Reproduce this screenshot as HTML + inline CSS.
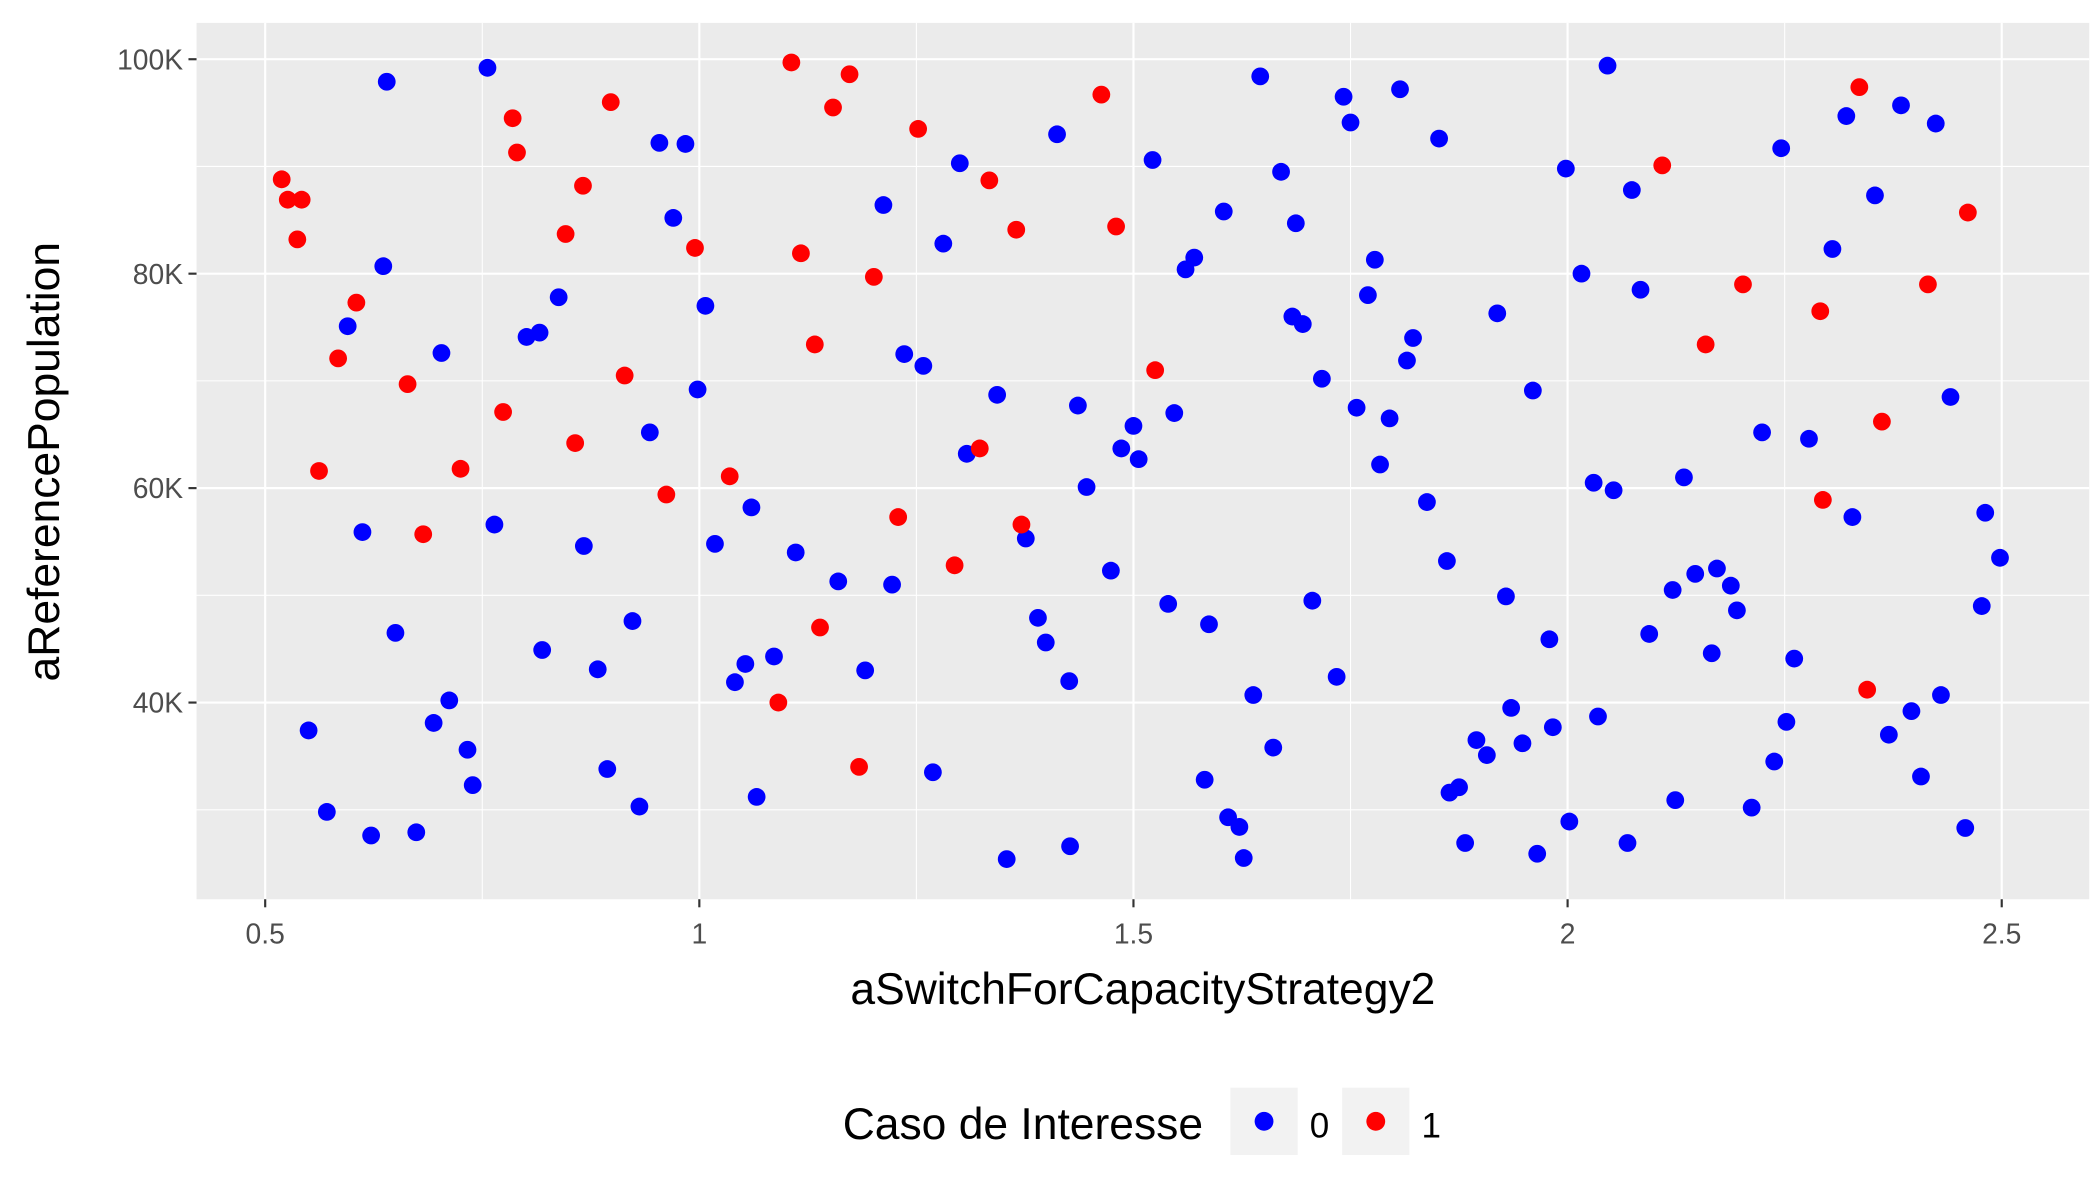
<!DOCTYPE html>
<html><head><meta charset="utf-8"><style>
html,body{margin:0;padding:0;background:#fff;}
svg{display:block;font-family:"Liberation Sans",Arial,sans-serif;}
</style></head><body>
<svg id="chart" width="2100" height="1200" viewBox="0 0 1560 891.43" xmlns="http://www.w3.org/2000/svg">
<rect x="0" y="0" width="1560" height="891.43" fill="#fff"/>
<rect x="146" y="17" width="1406" height="651" fill="#EBEBEB"/>
<g id="grid"></g>
<g id="axes"></g>
<g id="points"></g>
<text x="849" y="746" font-size="33" text-anchor="middle" fill="#000">aSwitchForCapacityStrategy2</text>
<text transform="translate(44,343) rotate(-90)" font-size="33" text-anchor="middle" fill="#000">aReferencePopulation</text>
<g>
<text x="626" y="846" font-size="33" fill="#000">Caso de Interesse</text>
<rect x="914" y="808" width="50" height="50" fill="#F2F2F2"/>
<circle cx="939" cy="833" r="7" fill="#0000FF"/>
<text x="973" y="845" font-size="26" fill="#000">0</text>
<rect x="997" y="808" width="50" height="50" fill="#F2F2F2"/>
<circle cx="1022" cy="833" r="7" fill="#FF0000"/>
<text x="1056" y="845" font-size="26" fill="#000">1</text>
</g>
</svg>
<script>
const xTicks=[0.5,1,1.5,2,2.5];
const xTickLabels=["0.5","1","1.5","2","2.5"];
const yTicks=[40,60,80,100];
const yTickLabels=["40K","60K","80K","100K"];
const xMinor=[0.75,1.25,1.75,2.25];
const yMinor=[30,50,70,90];
const blueX=[0.640,0.756,0.636,0.595,0.703,0.801,0.816,0.838,0.612,0.764,0.650,0.550,0.571,0.622,0.674,0.694,0.712,0.733,0.739,0.819,0.867,0.883,0.894,0.923,0.931,0.943,0.954,0.970,0.984,0.998,1.007,1.018,1.041,1.053,1.060,1.066,1.086,1.111,1.160,1.191,1.212,1.222,1.236,1.258,1.269,1.281,1.300,1.308,1.343,1.354,1.376,1.390,1.399,1.412,1.426,1.427,1.436,1.446,1.474,1.486,1.500,1.506,1.522,1.540,1.547,1.560,1.570,1.582,1.587,1.604,1.609,1.622,1.627,1.638,1.646,1.661,1.670,1.683,1.687,1.695,1.706,1.717,1.734,1.742,1.750,1.757,1.770,1.778,1.784,1.795,1.807,1.815,1.822,1.838,1.852,1.861,1.864,1.875,1.882,1.895,1.907,1.919,1.929,1.935,1.948,1.960,1.965,1.979,1.983,1.998,2.002,2.016,2.030,2.035,2.046,2.053,2.069,2.074,2.084,2.094,2.121,2.124,2.134,2.147,2.166,2.172,2.188,2.195,2.212,2.224,2.238,2.246,2.252,2.261,2.278,2.305,2.321,2.328,2.354,2.370,2.384,2.396,2.407,2.424,2.430,2.441,2.458,2.477,2.481,2.498];
const blueY=[97.9,99.2,80.7,75.1,72.6,74.1,74.5,77.8,55.9,56.6,46.5,37.4,29.8,27.6,27.9,38.1,40.2,35.6,32.3,44.9,54.6,43.1,33.8,47.6,30.3,65.2,92.2,85.2,92.1,69.2,77.0,54.8,41.9,43.6,58.2,31.2,44.3,54.0,51.3,43.0,86.4,51.0,72.5,71.4,33.5,82.8,90.3,63.2,68.7,25.4,55.3,47.9,45.6,93.0,42.0,26.6,67.7,60.1,52.3,63.7,65.8,62.7,90.6,49.2,67.0,80.4,81.5,32.8,47.3,85.8,29.3,28.4,25.5,40.7,98.4,35.8,89.5,76.0,84.7,75.3,49.5,70.2,42.4,96.5,94.1,67.5,78.0,81.3,62.2,66.5,97.2,71.9,74.0,58.7,92.6,53.2,31.6,32.1,26.9,36.5,35.1,76.3,49.9,39.5,36.2,69.1,25.9,45.9,37.7,89.8,28.9,80.0,60.5,38.7,99.4,59.8,26.9,87.8,78.5,46.4,50.5,30.9,61.0,52.0,44.6,52.5,50.9,48.6,30.2,65.2,34.5,91.7,38.2,44.1,64.6,82.3,94.7,57.3,87.3,37.0,95.7,39.2,33.1,94.0,40.7,68.5,28.3,49.0,57.7,53.5];
const redX=[0.519,0.526,0.542,0.537,0.605,0.584,0.562,0.664,0.682,0.725,0.774,0.785,0.790,0.846,0.866,0.857,0.898,0.914,0.962,0.995,1.035,1.091,1.106,1.117,1.133,1.139,1.154,1.173,1.184,1.201,1.229,1.252,1.294,1.323,1.334,1.365,1.371,1.463,1.480,1.525,2.109,2.159,2.202,2.291,2.294,2.336,2.345,2.362,2.415,2.461];
const redY=[88.8,86.9,86.9,83.2,77.3,72.1,61.6,69.7,55.7,61.8,67.1,94.5,91.3,83.7,88.2,64.2,96.0,70.5,59.4,82.4,61.1,40.0,99.7,81.9,73.4,47.0,95.5,98.6,34.0,79.7,57.3,93.5,52.8,63.7,88.7,84.1,56.6,96.7,84.4,71.0,90.1,73.4,79.0,76.5,58.9,97.4,41.2,66.2,79.0,85.7];

const NS="http://www.w3.org/2000/svg";
function sx(v){return 197+(v-0.5)*645;}
function sy(v){return 44+(100-v)*7.965;}
function mk(tag,attrs,parent){const e=document.createElementNS(NS,tag);for(const k in attrs)e.setAttribute(k,attrs[k]);parent.appendChild(e);return e;}
const grid=document.getElementById('grid'),axes=document.getElementById('axes'),pts=document.getElementById('points');
xMinor.forEach(v=>{const l=mk('line',{x1:sx(v),x2:sx(v),y1:17,y2:668,stroke:'#fff','stroke-width':0.8},grid);

});
yMinor.forEach(v=>{const l=mk('line',{x1:146,x2:1552,y1:sy(v),y2:sy(v),stroke:'#fff','stroke-width':0.8},grid);

});
xTicks.forEach((v,i)=>{const l=mk('line',{x1:sx(v),x2:sx(v),y1:17,y2:668,stroke:'#fff','stroke-width':1.6},grid);


const t=mk('line',{x1:sx(v),x2:sx(v),y1:668,y2:674,stroke:'#333','stroke-width':1.6},axes);


const tx=mk('text',{x:sx(v),y:701,'font-size':21,'text-anchor':'middle',fill:'#4D4D4D'},axes);tx.textContent=xTickLabels[i];

});
yTicks.forEach((v,i)=>{const l=mk('line',{x1:146,x2:1552,y1:sy(v),y2:sy(v),stroke:'#fff','stroke-width':1.6},grid);


const t=mk('line',{x1:140,x2:146,y1:sy(v),y2:sy(v),stroke:'#333','stroke-width':1.6},axes);


const tx=mk('text',{x:136,y:sy(v)+7.5,'font-size':21,'text-anchor':'end',fill:'#4D4D4D'},axes);tx.textContent=yTickLabels[i];

});
blueX.forEach((v,i)=>{const c=mk('circle',{cx:sx(v),cy:sy(blueY[i]),r:6.6,fill:'#0000FF'},pts);

});
redX.forEach((v,i)=>{const c=mk('circle',{cx:sx(v),cy:sy(redY[i]),r:6.6,fill:'#FF0000'},pts);

});
</script>
</body></html>
